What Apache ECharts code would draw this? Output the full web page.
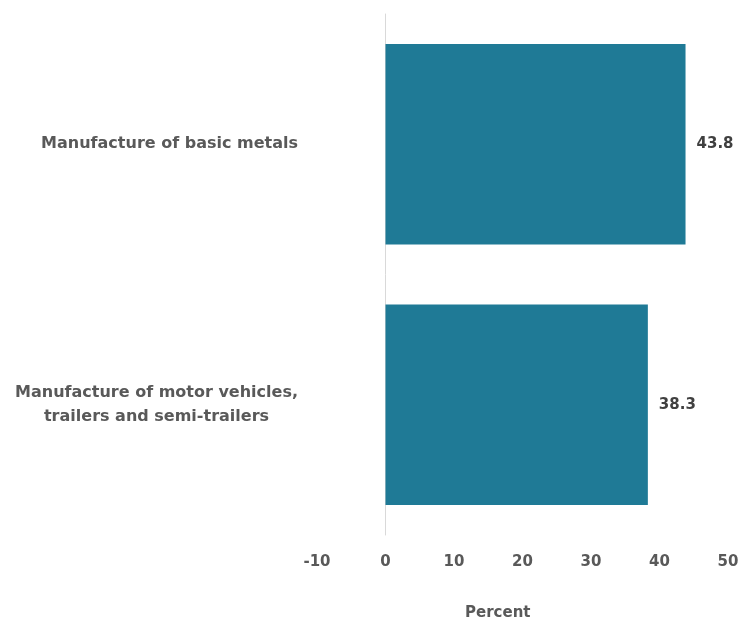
<!DOCTYPE html>
<html><head><meta charset="utf-8">
<script src="https://cdn.jsdelivr.net/npm/echarts@6/dist/echarts.min.js"></script>
<style>html,body{margin:0;padding:0;background:#fff}#c{width:738px;height:620px}</style>
</head><body><div id="c"></div>
<script>
const categories = ['Manufacture of basic metals', 'Manufacture of motor vehicles,\ntrailers and semi-trailers'];
const values = [43.8, 38.3];
const xTicks = [-10, 0, 10, 20, 30, 40, 50];

const FONT = '"DejaVu Sans", sans-serif';
const chart = echarts.init(document.getElementById('c'));
chart.setOption({
  animation: false,
  grid: {left: 317, right: 10, top: 14, bottom: 85, containLabel: false, outerBoundsMode: 'none'},
  xAxis: {
    type: 'value', min: xTicks[0], max: xTicks[xTicks.length - 1], interval: 10,
    axisLine: {show: false}, axisTick: {show: false}, splitLine: {show: false},
    axisLabel: {color: '#595959', fontSize: 15, fontWeight: 'bold', fontFamily: FONT, margin: 20}
  },
  yAxis: {
    type: 'category', data: categories, inverse: true,
    axisLine: {show: true, onZero: true, lineStyle: {color: '#d9d9d9', width: 1}},
    axisTick: {show: false},
    axisLabel: {
      align: 'right', margin: 19,
      color: '#595959', fontSize: 16, fontWeight: 'bold', fontFamily: FONT, lineHeight: 24,
      formatter: v => v.split('\n').map(s => '{a|' + s + '}').join('\n'),
      rich: {a: {align: 'center', color: '#595959', fontSize: 16, fontWeight: 'bold', fontFamily: FONT, lineHeight: 24}}
    }
  },
  series: [{
    type: 'bar', data: values, barWidth: '77%',
    itemStyle: {color: '#1F7A96'},
    label: {show: true, position: 'right', distance: 11, color: '#404040', fontSize: 15, fontWeight: 'bold', fontFamily: FONT,
      formatter: p => p.value.toFixed(1)}
  }],
  graphic: [{type: 'text', left: 465, top: 606, style: {text: 'Percent', fill: '#595959', font: 'bold 15px ' + FONT}}]
});
</script></body></html>
